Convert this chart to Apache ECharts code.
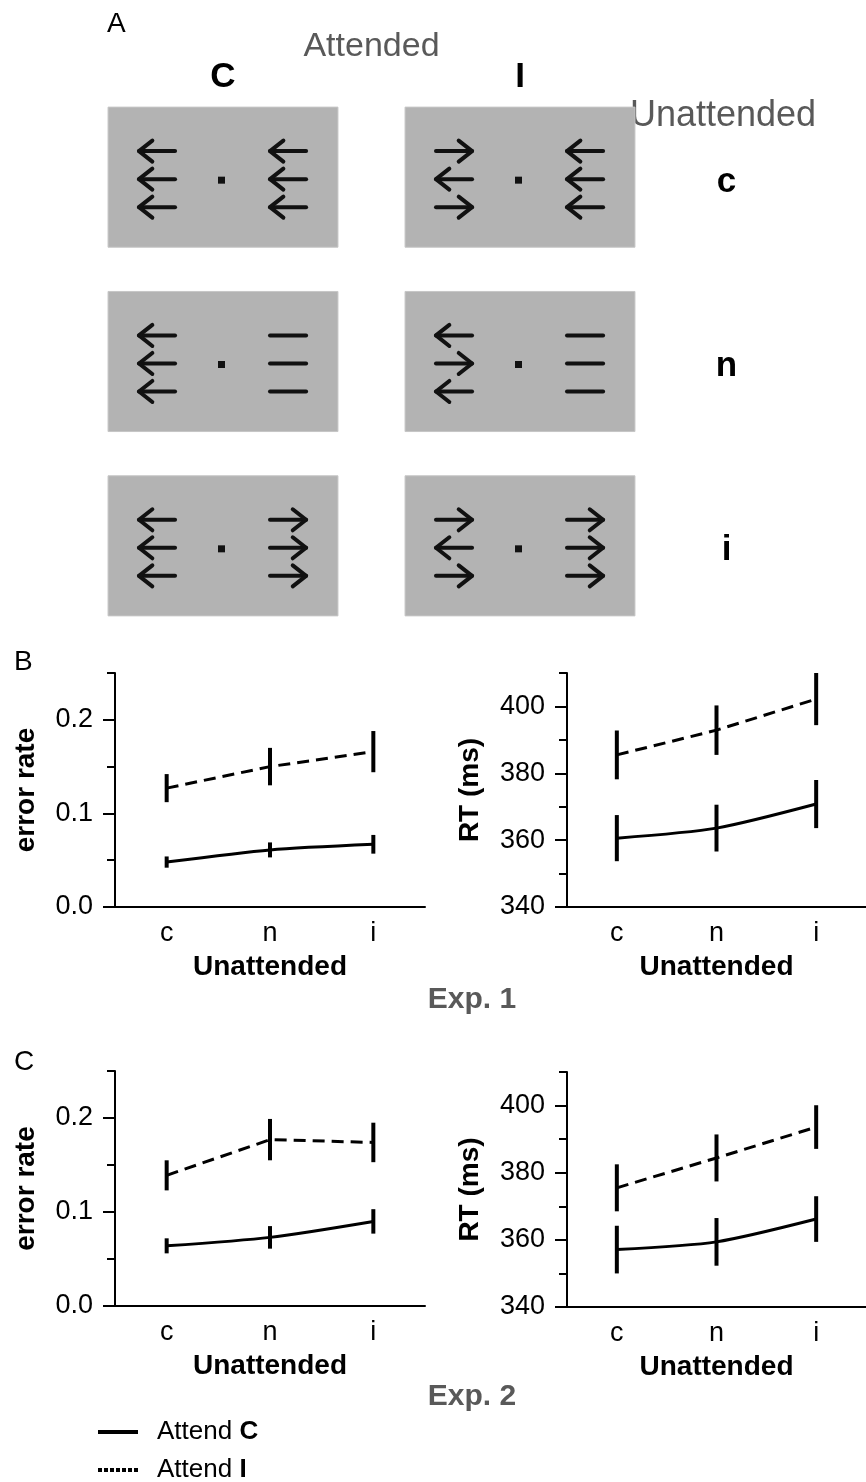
<!DOCTYPE html>
<html><head><meta charset="utf-8">
<script src="https://cdn.jsdelivr.net/npm/echarts@6/dist/echarts.min.js"></script>
<style>html,body{margin:0;padding:0;background:#fff}#main{width:866px;height:1482px}</style>
</head><body><div id="main"></div>
<script>
// ---------- data ----------
const conditions = ['c', 'n', 'i'];            // unattended flanker condition
const attendedCols = ['C', 'I'];               // attended flanker condition
const stimRows = ['i', 'n', 'c'];              // bottom -> top

// Exp. 1 (panel B)
const exp1ErrorC = [0.048, 0.061, 0.067];
const exp1ErrorCse = [0.006, 0.008, 0.010];
const exp1ErrorI = [0.127, 0.150, 0.166];
const exp1ErrorIse = [0.015, 0.020, 0.022];
const exp1RtC = [360.6, 363.6, 370.8];
const exp1RtCse = [6.9, 7.0, 7.2];
const exp1RtI = [385.5, 392.9, 402.2];
const exp1RtIse = [7.3, 7.4, 7.8];

// Exp. 2 (panel C)
const exp2ErrorC = [0.064, 0.073, 0.090];
const exp2ErrorCse = [0.008, 0.012, 0.013];
const exp2ErrorI = [0.139, 0.177, 0.174];
const exp2ErrorIse = [0.016, 0.022, 0.021];
const exp2RtC = [357.1, 359.4, 366.2];
const exp2RtCse = [7.1, 7.1, 6.8];
const exp2RtI = [375.5, 384.4, 393.6];
const exp2RtIse = [7.0, 7.0, 6.5];

// tick values
const errMajor = [0, 0.1, 0.2];
const errMinor = [0.05, 0.15, 0.25];
const rtMajor = [340, 360, 380, 400];
const rtMinor = [350, 370, 390, 410];

// stimulus displays (panel A): L = left arrow, R = right arrow, - = neutral line
const stimCol = ['C', 'I', 'C', 'I', 'C', 'I'];
const stimRow = ['c', 'c', 'n', 'n', 'i', 'i'];
const stimAttended = ['LLL', 'RLR', 'LLL', 'LRL', 'LLL', 'RLR'];
const stimUnattended = ['LLL', 'LLL', '---', '---', 'RRR', 'RRR'];

// ---------- rendering ----------
const FONT = 'Liberation Sans, Arial, Helvetica, sans-serif';
const GRAY = '#595959';
const chart = echarts.init(document.getElementById('main'), null, {renderer: 'canvas'});

const grids = [
  {left: 115, top: 673, width: 310, height: 234},
  {left: 567, top: 673, width: 310, height: 234},
  {left: 115, top: 1071, width: 310, height: 235},
  {left: 567, top: 1072, width: 306, height: 235},
  {left: 74.5, top: 85, width: 594, height: 553}
];

function xAx(g) {
  return {
    type: 'category', gridIndex: g, data: conditions, boundaryGap: true,
    axisLine: {onZero: false, lineStyle: {color: '#000', width: 2}},
    axisTick: {alignWithLabel: true, length: 10, lineStyle: {color: '#000', width: 2}},
    axisLabel: {fontSize: 27, color: '#000', margin: 13, fontFamily: FONT},
    name: 'Unattended', nameLocation: 'middle', nameGap: 46,
    nameTextStyle: {fontSize: 28, fontWeight: 'bold', color: '#000', fontFamily: FONT}
  };
}
function yAxes(g, min, max, major, minor, name, gap, fmt) {
  return [{
    type: 'value', gridIndex: g, min: min, max: max, position: 'left',
    axisLine: {show: true, lineStyle: {color: '#000', width: 2}},
    axisTick: {show: true, length: 12, customValues: major, lineStyle: {color: '#000', width: 2}},
    axisLabel: {customValues: major, formatter: fmt, fontSize: 27, color: '#000', margin: 22, fontFamily: FONT},
    splitLine: {show: false},
    name: name, nameLocation: 'middle', nameGap: gap,
    nameTextStyle: {fontSize: 28, fontWeight: 'bold', color: '#000', fontFamily: FONT}
  }, {
    type: 'value', gridIndex: g, min: min, max: max, position: 'left',
    axisLine: {show: false},
    axisTick: {show: true, length: 8, customValues: minor, lineStyle: {color: '#000', width: 2}},
    axisLabel: {show: false},
    splitLine: {show: false}
  }];
}
const errFmt = v => v.toFixed(1);
const rtFmt = v => String(Math.round(v));

const yAxis = [].concat(
  yAxes(0, 0, 0.25, errMajor, errMinor, 'error rate', 75, errFmt),
  yAxes(1, 340, 410, rtMajor, rtMinor, 'RT (ms)', 83, rtFmt),
  yAxes(2, 0, 0.25, errMajor, errMinor, 'error rate', 75, errFmt),
  yAxes(3, 340, 410, rtMajor, rtMinor, 'RT (ms)', 83, rtFmt)
);
yAxis.push({
  type: 'category', gridIndex: 4, data: stimRows, position: 'right',
  axisLine: {show: false}, axisTick: {show: false}, splitLine: {show: false},
  axisLabel: {fontSize: 35, fontWeight: 'bold', color: '#000', align: 'center', margin: 58,
    formatter: v => '{r|' + v + '}',
    rich: {r: {fontSize: 35, fontWeight: 'bold', color: '#000', fontFamily: FONT, padding: [10, 0, 0, 0]}},
    fontFamily: FONT}
});
const xAxis = [xAx(0), xAx(1), xAx(2), xAx(3), {
  type: 'category', gridIndex: 4, data: attendedCols, position: 'top',
  axisLine: {show: false}, axisTick: {show: false}, splitLine: {show: false},
  axisLabel: {fontSize: 35, fontWeight: 'bold', color: '#000', margin: 8, verticalAlign: 'middle', fontFamily: FONT},
  name: 'Attended', nameLocation: 'middle', nameGap: 38, nameMoveOverlap: false,
  nameTextStyle: {fontSize: 34, color: GRAY, verticalAlign: 'middle', fontFamily: FONT}
}];

function lineSeries(name, g, yIdx, vals, dashed) {
  return {
    type: 'line', name: name, xAxisIndex: g, yAxisIndex: yIdx, data: vals,
    symbol: 'none', smooth: dashed ? false : 0.25, silent: true,
    lineStyle: {color: '#000', width: 3, type: dashed ? [12, 7] : 'solid'},
    itemStyle: {color: '#000'}
  };
}
function errSeries(g, yIdx, vals, se) {
  return {
    type: 'custom', name: 'err', xAxisIndex: g, yAxisIndex: yIdx, silent: true, z: 5,
    data: vals.map((v, i) => [i, v, se[i]]),
    encode: {x: 0, y: 1},
    renderItem: function (params, api) {
      const x = api.value(0), y = api.value(1), e = api.value(2);
      const p1 = api.coord([x, y - e]);
      const p2 = api.coord([x, y + e]);
      return {type: 'line', shape: {x1: p1[0], y1: p1[1], x2: p2[0], y2: p2[1]},
        style: {stroke: '#000', lineWidth: 4}};
    }
  };
}

function stimRender(params, api) {
  const i = params.dataIndex;
  const c = api.coord([api.value(0), api.value(1)]);
  const band = api.size([1, 1]);
  const bw = band[0] * 0.774, bh = band[1] * 0.76;
  const ink = '#111';
  const children = [{
    type: 'rect', shape: {x: c[0] - bw / 2, y: c[1] - bh / 2, width: bw, height: bh},
    style: {fill: '#b3b3b3', stroke: '#c6c6c6', lineWidth: 1}
  }];
  const L = bw * 0.157, hx = L * 0.37, hy = bh * 0.075;
  const rowOff = [-0.186, 0.014, 0.214];
  const cols = [[-0.287, stimAttended[i]], [0.283, stimUnattended[i]]];
  cols.forEach(function (cd) {
    const cx = c[0] + cd[0] * bw;
    cd[1].split('').forEach(function (d, k) {
      const y = c[1] + rowOff[k] * bh;
      const x0 = cx - L / 2, x1 = cx + L / 2;
      const st = {stroke: ink, lineWidth: 4, lineCap: 'round', lineJoin: 'round', fill: null};
      children.push({type: 'line', shape: {x1: x0, y1: y, x2: x1, y2: y}, style: st});
      if (d === 'L') children.push({type: 'polyline', shape: {points: [[x0 + hx, y - hy], [x0, y], [x0 + hx, y + hy]]}, style: st});
      if (d === 'R') children.push({type: 'polyline', shape: {points: [[x1 - hx, y - hy], [x1, y], [x1 - hx, y + hy]]}, style: st});
    });
  });
  const ds = 7;
  children.push({type: 'rect', shape: {x: c[0] - 1.5 - ds / 2, y: c[1] + 3 - ds / 2, width: ds, height: ds}, style: {fill: ink}});
  return {type: 'group', children: children};
}

const series = [
  lineSeries('Attend C', 0, 0, exp1ErrorC, false),
  lineSeries('Attend I', 0, 0, exp1ErrorI, true),
  errSeries(0, 0, exp1ErrorC, exp1ErrorCse),
  errSeries(0, 0, exp1ErrorI, exp1ErrorIse),
  lineSeries('Attend C', 1, 2, exp1RtC, false),
  lineSeries('Attend I', 1, 2, exp1RtI, true),
  errSeries(1, 2, exp1RtC, exp1RtCse),
  errSeries(1, 2, exp1RtI, exp1RtIse),
  lineSeries('Attend C', 2, 4, exp2ErrorC, false),
  lineSeries('Attend I', 2, 4, exp2ErrorI, true),
  errSeries(2, 4, exp2ErrorC, exp2ErrorCse),
  errSeries(2, 4, exp2ErrorI, exp2ErrorIse),
  lineSeries('Attend C', 3, 6, exp2RtC, false),
  lineSeries('Attend I', 3, 6, exp2RtI, true),
  errSeries(3, 6, exp2RtC, exp2RtCse),
  errSeries(3, 6, exp2RtI, exp2RtIse),
  {
    type: 'custom', name: 'stimuli', xAxisIndex: 4, yAxisIndex: 8, silent: true,
    data: stimCol.map((col, i) => [attendedCols.indexOf(col), stimRows.indexOf(stimRow[i])]),
    encode: {x: 0, y: 1},
    renderItem: stimRender
  }
];

function label(text, x, y, size, opts) {
  return {
    type: 'text', x: x, y: y, silent: true,
    style: Object.assign({text: text, fontSize: size, fontFamily: FONT, fill: '#000',
      align: 'left', verticalAlign: 'middle'}, opts || {})
  };
}

// legend icons: a solid bar and a finely dashed bar
let dashPath = 'path://';
for (let k = 0; k < 7; k++) dashPath += 'M' + (k * 6) + ',0h4v4h-4z';
const solidPath = 'path://M0,0H40V4H0Z';

const option = {
  animation: false,
  backgroundColor: '#fff',
  textStyle: {fontFamily: FONT},
  grid: grids,
  xAxis: xAxis,
  yAxis: yAxis,
  series: series,
  legend: {
    orient: 'vertical', left: 93, top: 1414, height: 68, itemWidth: 40, itemHeight: 4, itemGap: 12,
    selectedMode: false,
    data: [
      {name: 'Attend C', icon: solidPath},
      {name: 'Attend I', icon: dashPath}
    ],
    itemStyle: {color: '#000'},
    formatter: n => 'Attend {b|' + n.split(' ')[1] + '}',
    textStyle: {fontSize: 26, color: '#000', fontFamily: FONT, padding: [0, 0, 0, 14],
      rich: {b: {fontSize: 26, fontWeight: 'bold', color: '#000', fontFamily: FONT}}}
  },
  graphic: [
    label('A', 107, 24, 28),
    label('Unattended', 723, 116, 36, {fill: GRAY, align: 'center'}),
    label('B', 14, 662, 28),
    label('C', 14, 1062, 28),
    label('Exp. 1', 472, 1000, 30, {fill: GRAY, fontWeight: 'bold', align: 'center'}),
    label('Exp. 2', 472, 1397, 30, {fill: GRAY, fontWeight: 'bold', align: 'center'})
  ]
};
chart.setOption(option);
</script></body></html>
